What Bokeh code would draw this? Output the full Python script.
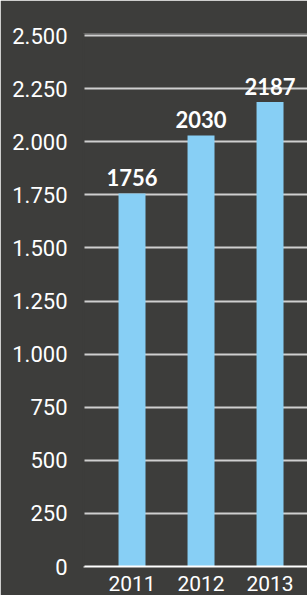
from bokeh.plotting import figure
from bokeh.models import Range1d, ColumnDataSource, FixedTicker
from bokeh.embed import file_html
from bokeh.resources import INLINE
from bokeh.core.properties import value

years = ["2011", "2012", "2013"]
values = [1756, 2030, 2187]
y_ticks = [0, 250, 500, 750, 1000, 1250, 1500, 1750, 2000, 2250, 2500]
y_tick_labels = ["0", "250", "500", "750", "1.000", "1.250", "1.500", "1.750", "2.000", "2.250", "2.500"]

BG = "#3d3d3b"
BAR = "#87cff5"

xs = list(range(len(years)))
src = ColumnDataSource(dict(x=xs, top=values, label=[str(v) for v in values]))

p = figure(width=307, height=595, output_backend="svg", toolbar_location=None,
           x_range=Range1d(-0.703, 2.543), y_range=Range1d(0, 2510),
           min_border_left=83, min_border_right=0, min_border_top=33, min_border_bottom=29)
p.background_fill_color = BG
p.border_fill_color = BG
p.outline_line_color = None

p.vbar(x="x", top="top", width=0.391, source=src, color=BAR, line_color=None)
p.text(x="x", y="top", text="label", source=src, text_color="white",
       text_font=value("Lato"), text_font_style="bold", text_font_size="22px",
       text_align="center", text_baseline="alphabetic", y_offset=-16)

p.xgrid.grid_line_color = None
p.ygrid.grid_line_color = "#cfcfcf"
p.ygrid.grid_line_width = 2
p.ygrid.ticker = FixedTicker(ticks=y_ticks)

p.yaxis.ticker = FixedTicker(ticks=y_ticks)
p.yaxis.major_label_overrides = {t: l for t, l in zip(y_ticks, y_tick_labels)}
p.yaxis.axis_line_color = BG
p.yaxis.axis_line_width = 2
p.yaxis.major_tick_line_color = None
p.yaxis.minor_tick_line_color = None
p.yaxis.major_label_standoff = 10
p.yaxis.major_label_text_color = "white"
p.yaxis.major_label_text_font = "Roboto"
p.yaxis.major_label_text_font_size = "22px"

p.xaxis.ticker = FixedTicker(ticks=xs)
p.xaxis.major_label_overrides = {i: y for i, y in zip(xs, years)}
p.xaxis.axis_line_color = "white"
p.xaxis.axis_line_width = 2
p.xaxis.major_tick_line_color = None
p.xaxis.minor_tick_line_color = None
p.xaxis.major_label_standoff = 3
p.xaxis.major_label_text_color = "white"
p.xaxis.major_label_text_font = "Roboto"
p.xaxis.major_label_text_font_size = "21px"

html = file_html(p, INLINE)
html = html.replace("<body>", '<body style="background:%s; overflow:hidden;">' % BG, 1)
open("out.html", "w").write(html)
